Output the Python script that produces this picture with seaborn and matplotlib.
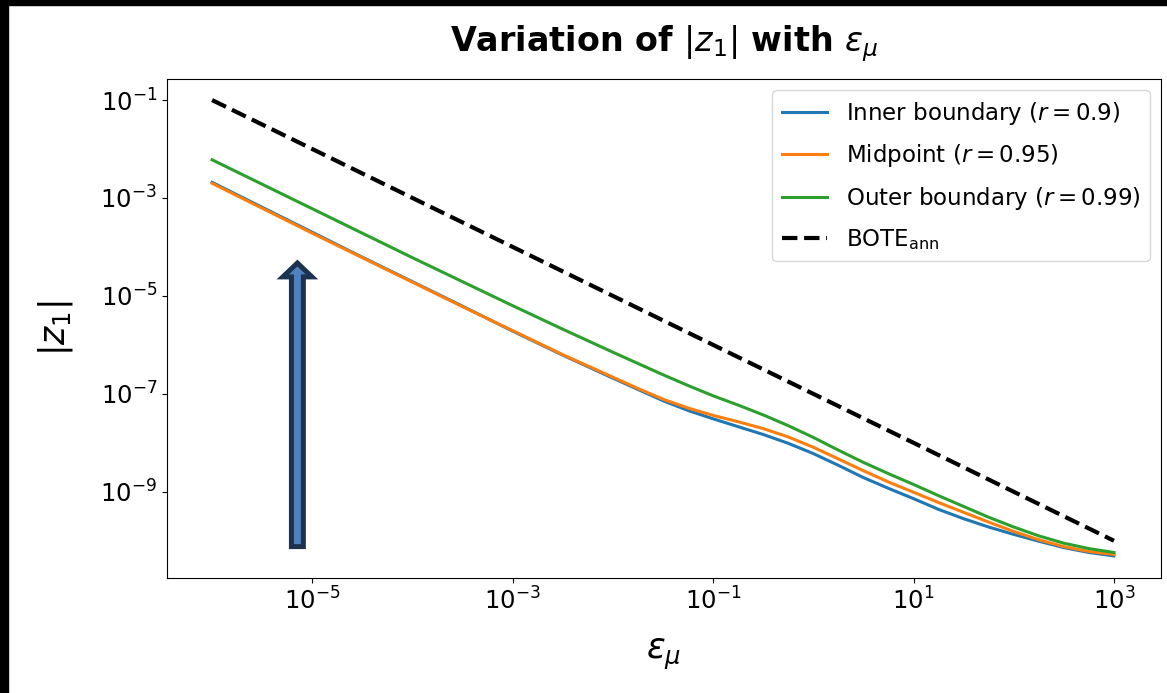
import numpy as np
import pandas as pd
import matplotlib
matplotlib.use("Agg")
import matplotlib.pyplot as plt
from matplotlib.patches import Rectangle
import seaborn as sns

# valeurs (log10)
log_eps = [-6, -5.5, -5, -4.5, -4, -3.5, -3, -2.5,
           -2, -1.75, -1.5, -1.25, -1, -0.75, -0.5, -0.25, 0, 0.25, 0.5, 0.75,
           1, 1.25, 1.5, 1.75, 2, 2.25, 2.5, 2.75, 3]
log_inner = [-2.68, -3.19, -3.70, -4.21, -4.71, -5.21, -5.72, -6.21,
             -6.68, -6.91, -7.14, -7.34, -7.51, -7.67, -7.83, -8.01, -8.22, -8.46, -8.71, -8.93,
             -9.14, -9.36, -9.55, -9.72, -9.87, -10.01, -10.14, -10.24, -10.31]
log_mid = [-2.70, -3.21, -3.72, -4.22, -4.72, -5.22, -5.71, -6.20,
           -6.66, -6.89, -7.11, -7.29, -7.44, -7.57, -7.71, -7.88, -8.09, -8.33, -8.57, -8.80,
           -9.01, -9.22, -9.42, -9.62, -9.81, -9.98, -10.12, -10.22, -10.28]
log_outer = [-2.22, -2.72, -3.22, -3.72, -4.22, -4.71, -5.20, -5.68,
             -6.15, -6.38, -6.61, -6.83, -7.04, -7.23, -7.43, -7.65, -7.89, -8.15, -8.40, -8.63,
             -8.85, -9.08, -9.30, -9.52, -9.72, -9.90, -10.05, -10.16, -10.24]
log_eps_bote = [-6, 3]
log_bote = [-1, -10]

labels = ["Inner boundary ($r = 0.9$)", "Midpoint ($r = 0.95$)",
          "Outer boundary ($r = 0.99$)"]
xticks = [1e-5, 1e-3, 1e-1, 1e1, 1e3]
yticks = [1e-1, 1e-3, 1e-5, 1e-7, 1e-9]

eps = 10.0 ** np.array(log_eps)
df = pd.concat([
    pd.DataFrame({"eps": eps, "z1": 10.0 ** np.array(v), "courbe": lab})
    for v, lab in zip([log_inner, log_mid, log_outer], labels)
])

plt.rcParams["font.size"] = 17.5

fig = plt.figure(figsize=(11.67, 6.93), dpi=100)
ax = fig.add_axes([0.1431, 0.166, 0.8518, 0.720])

sns.lineplot(data=df, x="eps", y="z1", hue="courbe", palette=sns.color_palette("tab10", 3),
             linewidth=2.2, ax=ax)
sns.lineplot(x=10.0 ** np.array(log_eps_bote), y=10.0 ** np.array(log_bote), color="black",
             linestyle="--", linewidth=3, label=r"BOTE$_{\mathrm{ann}}$", ax=ax)

ax.set_xscale("log")
ax.set_yscale("log")
ax.set_xlim(10 ** -6.45, 10 ** 3.47)
ax.set_ylim(10 ** -10.76, 10 ** -0.57)
ax.set_xticks(xticks)
ax.set_yticks(yticks)
ax.minorticks_off()

ax.set_title(r"Variation of $|z_1|$ with $\varepsilon_\mu$", fontsize=24,
             fontweight="bold", pad=20)
ax.set_xlabel(r"$\varepsilon_\mu$", fontsize=25, labelpad=16)
ax.set_ylabel(r"$|z_1|$", fontsize=25, labelpad=18)

leg = ax.legend(loc="upper right", fontsize=16.5, labelspacing=0.68)

# fleche ajoutee sur la capture
ax.annotate("", xy=(7.1e-6, 4.7e-5), xytext=(7.1e-6, 7.6e-11),
            arrowprops=dict(arrowstyle="simple,head_length=10,head_width=21,tail_width=8.6",
                            mutation_scale=1, fc="#4f81bd", ec="#1d3250", lw=3.6,
                            joinstyle="miter", shrinkA=0, shrinkB=0))

# bandes noires de la capture d'ecran
fig.patches.append(Rectangle((0, 0), 8 / 1167, 1, transform=fig.transFigure,
                             color="black", zorder=10))
fig.patches.append(Rectangle((0, 1 - 5 / 693), 1, 5 / 693, transform=fig.transFigure,
                             color="black", zorder=10))

fig.savefig("out.png", dpi=100)
